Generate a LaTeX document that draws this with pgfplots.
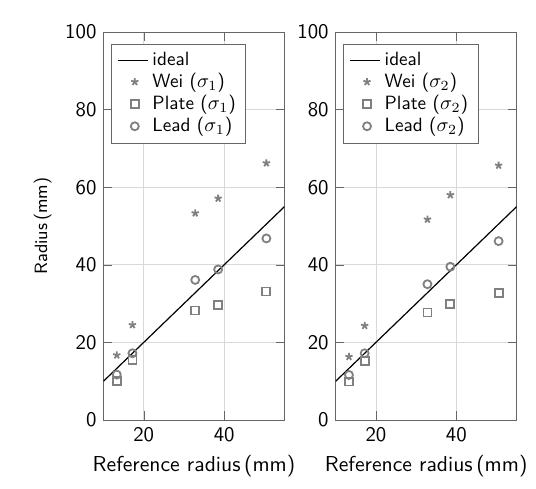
\documentclass[border=0pt]{standalone}
\usepackage{pgfplots}
\pgfplotsset{compat=1.18}
\renewcommand{\familydefault}{\sfdefault}
\begin{document}
\begin{tikzpicture}
\pgfplotsset{
 myax/.style={
  scale only axis, width=90.5pt, height=194pt,
  xmin=10, xmax=55, ymin=0, ymax=100,
  xtick={20,40}, ytick={0,20,...,100},
  grid=major, grid style={black!15},
  axis line style={black!60}, tick style={black!60},
  /pgf/number format/assume math mode=true,
  tick label style={font=\fontsize{10.4}{12}\selectfont},
  xlabel={Reference radius\,(mm)}, xlabel style={font=\fontsize{10.8}{13}\selectfont},
  legend style={at={(0.04,0.97)}, anchor=north west, draw=black!60,
    font=\fontsize{9.6}{11}\selectfont, row sep=-1.6pt},
  legend cell align=left,
 },
 mk/.style={only marks, black!50, line width=0.9pt, mark size=2pt},
 idl/.style={black, line width=0.6pt,
   legend image code/.code={\draw[##1] (0cm,0cm) -- (0.53cm,0cm);}},
}
\begin{axis}[myax, ylabel={Radius\,(mm)}, ylabel style={font=\fontsize{8.9}{11}\selectfont}]
\addplot[idl] coordinates {(10,10) (55,55)};
\addlegendentry{ideal}
\addplot[mk, mark=star, mark size=1.9pt] coordinates {(13.3,16.7) (17.2,24.5) (32.8,53.3) (38.5,57.1) (50.5,66.2)};
\addlegendentry{Wei ($\sigma_1$)}
\addplot[mk, mark=square] coordinates {(13.3,10.1) (17.2,15.5) (32.8,28.2) (38.5,29.6) (50.5,33.1)};
\addlegendentry{Plate ($\sigma_1$)}
\addplot[mk, mark=o] coordinates {(13.3,11.7) (17.2,17.2) (32.8,36.1) (38.5,38.8) (50.5,46.8)};
\addlegendentry{Lead ($\sigma_1$)}
\end{axis}
\begin{axis}[myax, at={(116.1pt,0pt)}]
\addplot[idl] coordinates {(10,10) (55,55)};
\addlegendentry{ideal}
\addplot[mk, mark=star, mark size=1.9pt] coordinates {(13.3,16.3) (17.2,24.3) (32.8,51.7) (38.5,58.0) (50.5,65.6)};
\addlegendentry{Wei ($\sigma_2$)}
\addplot[mk, mark=square] coordinates {(13.3,9.9) (17.2,15.3) (32.8,27.7) (38.5,29.8) (50.5,32.8)};
\addlegendentry{Plate ($\sigma_2$)}
\addplot[mk, mark=o] coordinates {(13.3,11.6) (17.2,17.2) (32.8,35.0) (38.5,39.5) (50.5,46.1)};
\addlegendentry{Lead ($\sigma_2$)}
\end{axis}
\path (-51.75pt,-34pt) rectangle (216.25pt,210pt);
\end{tikzpicture}
\end{document}
